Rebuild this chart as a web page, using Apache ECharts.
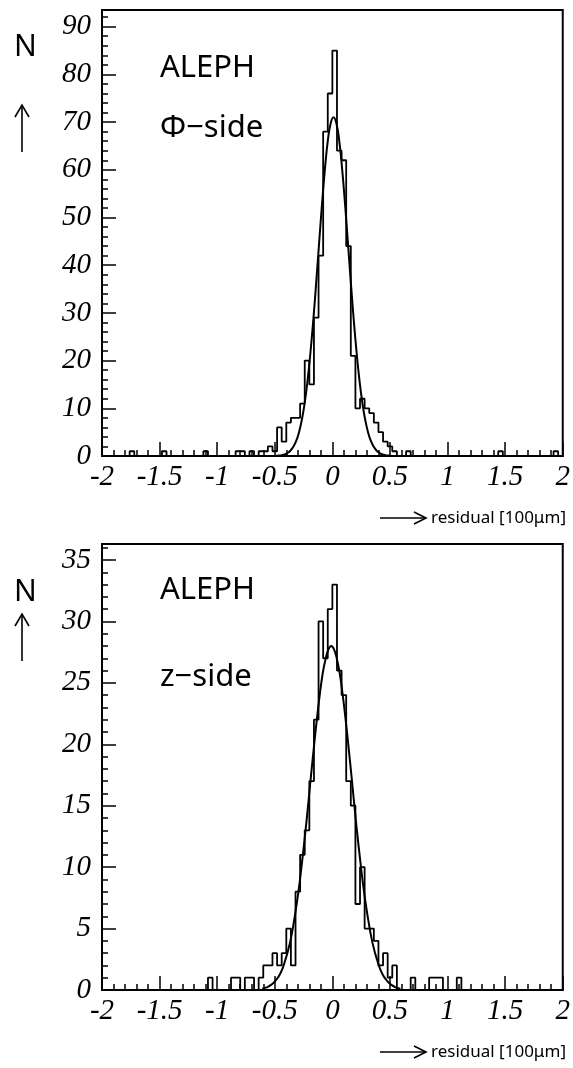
<!DOCTYPE html>
<html><head><meta charset="utf-8">
<script src="https://cdn.jsdelivr.net/npm/echarts@6/dist/echarts.min.js"></script>
<style>html,body{margin:0;padding:0;background:#fff}#c{width:573px;height:1068px}</style>
</head><body><div id="c"></div>
<script>
// histogram: 100 bins of width 0.04 from -2 to 2
var binStart = -2, binWidth = 0.04;
var countsPhi = [0,0,0,0,0,0,1,0,0,0, 0,0,0,1,0,0,0,0,0,0, 0,0,1,0,0,0,0,0,0,1, 1,0,1,0,1,1,2,1,6,3, 7,8,8,11,20,15,29,42,68,76, 85,64,62,44,21,10,12,10,9,7, 5,3,2,1,0,0,1,0,0,0, 0,0,0,0,0,0,0,0,0,0, 0,0,0,0,0,0,1,0,0,0, 0,0,0,0,0,0,0,0,1,0];
var countsZ = [0,0,0,0,0,0,0,0,0,0, 0,0,0,0,0,0,0,0,0,0, 0,0,0,1,0,0,0,0,1,1, 0,1,1,0,1,2,2,3,2,3, 5,2,8,11,13,17,22,30,27,31, 33,26,24,17,15,7,10,5,5,4, 2,3,1,2,0,0,0,1,0,0, 0,1,1,1,0,0,0,1,0,0, 0,0,0,0,0,0,0,0,0,0, 0,0,0,0,0,0,0,0,0,0];
// fitted curves
var fitPhiX = [-0.49,-0.465,-0.44,-0.415,-0.39,-0.365,-0.34,-0.315,-0.29,-0.265,-0.24,-0.215,-0.19,-0.165,-0.14,-0.115,-0.09,-0.065,-0.04,-0.015,0.01,0.035,0.06,0.085,0.11,0.135,0.16,0.185,0.21,0.235,0.26,0.285,0.31,0.335,0.36,0.385,0.41,0.435,0.46,0.485,0.51];
var fitPhiY = [0.04,0.09,0.18,0.34,0.62,1.1,1.9,3.1,4.95,7.6,11.2,15.9,21.8,28.7,36.5,44.7,52.8,60.1,66.0,69.7,71.0,69.7,66.0,60.1,52.8,44.7,36.5,28.7,21.8,15.9,11.2,7.6,4.95,3.1,1.9,1.1,0.62,0.34,0.18,0.09,0.04];
var fitZX = [-0.61,-0.585,-0.56,-0.535,-0.51,-0.485,-0.46,-0.435,-0.41,-0.385,-0.36,-0.335,-0.31,-0.285,-0.26,-0.235,-0.21,-0.185,-0.16,-0.135,-0.11,-0.085,-0.06,-0.035,-0.01,0.015,0.04,0.065,0.09,0.115,0.14,0.165,0.19,0.215,0.24,0.265,0.29,0.315,0.34,0.365,0.39,0.415,0.44,0.465,0.49,0.515,0.54,0.565,0.59];
var fitZY = [0.11,0.17,0.26,0.40,0.59,0.86,1.2,1.7,2.4,3.2,4.2,5.5,7.0,8.7,10.7,12.8,15.1,17.5,19.8,22.0,24.0,25.7,26.9,27.7,28,27.7,26.9,25.7,24.0,22.0,19.8,17.5,15.1,12.8,10.7,8.7,7.0,5.5,4.2,3.2,2.4,1.7,1.2,0.86,0.59,0.40,0.26,0.17,0.11];
var xTicks = ['-2','-1.5','-1','-0.5','0','0.5','1','1.5','2'];
var yMaxPhi = 93.5, yMaxZ = 36.3;
var labelPhi = 'Φ\u2212side', labelZ = 'z\u2212side', expName = 'ALEPH';
var xTitle = 'residual [100μm]', yTitle = 'N';

function steps(counts){
  var pts = [];
  for (var k=0;k<counts.length;k++){
    var a = binStart + k*binWidth, b = a + binWidth;
    pts.push([a, counts[k]]); pts.push([b, counts[k]]);
  }
  return pts;
}
function pairs(xs, ys){ return xs.map(function(x,i){return [x, ys[i]];}); }

var serif = 'Liberation Serif';
var sans = 'Noto Sans';
function xAx(i){
  return {gridIndex:i, type:'value', min:-2, max:2, interval:0.5,
    axisLine:{show:true, onZero:false, lineStyle:{color:'#000', width:2}},
    axisTick:{show:true, inside:true, length:14, lineStyle:{color:'#000', width:1.5}},
    minorTick:{show:true, splitNumber:5, length:6, lineStyle:{color:'#000', width:1.5}},
    splitLine:{show:false},
    axisLabel:{color:'#000', fontFamily:serif, fontStyle:'italic', fontSize:29, margin:7,
      formatter:function(v){ var s = xTicks.filter(function(t){return Math.abs(parseFloat(t)-v)<1e-6;}); return s.length? s[0] : ''; }}
  };
}
function yAx(i, max, interval){
  return {gridIndex:i, type:'value', min:0, max:max, interval:interval,
    axisLine:{show:true, onZero:false, lineStyle:{color:'#000', width:2}},
    axisTick:{show:true, inside:true, length:14, lineStyle:{color:'#000', width:1.5}},
    minorTick:{show:true, splitNumber:5, length:6, lineStyle:{color:'#000', width:1.5}},
    splitLine:{show:false},
    axisLabel:{color:'#000', fontFamily:serif, fontStyle:'italic', fontSize:29, margin:11, showMaxLabel:false,
      formatter:function(v){ return (Math.abs(v/interval - Math.round(v/interval))<1e-6) ? String(v) : ''; }}
  };
}
function arrowUp(x, y1, y2){
  return [
    {type:'line', shape:{x1:x,y1:y1,x2:x,y2:y2}, style:{stroke:'#000', lineWidth:1.6}},
    {type:'polyline', shape:{points:[[x-7,y1+12],[x,y1],[x+7,y1+12]]}, style:{stroke:'#000', fill:null, lineWidth:1.6}}
  ];
}
function arrowRight(x1, x2, y){
  return [
    {type:'line', shape:{x1:x1,y1:y,x2:x2,y2:y}, style:{stroke:'#000', lineWidth:1.6}},
    {type:'polyline', shape:{points:[[x2-12,y-6],[x2,y],[x2-12,y+6]]}, style:{stroke:'#000', fill:null, lineWidth:1.6}}
  ];
}
function txt(x, y, s, size, align){
  return {type:'text', x:x, y:y, style:{text:s, font: size+'px "'+sans+'"', fill:'#000', textAlign:align||'left', textVerticalAlign:'middle'}};
}

var off = 534;
var graphics = [].concat(
  [txt(14, 47, yTitle, 30), txt(160, 68, expName, 31), txt(160, 128, labelPhi, 31)],
  arrowUp(22, 105, 152),
  arrowRight(380, 426, 518), [txt(566, 518, xTitle, 17, 'right')],
  [txt(14, 592, yTitle, 30), txt(160, 590, expName, 31), txt(160, 677, labelZ, 31)],
  arrowUp(22, 614, 661),
  arrowRight(380, 426, 518+off), [txt(566, 518+off, xTitle, 17, 'right')]
);

var chart = echarts.init(document.getElementById('c'), null, {renderer:'canvas'});
chart.setOption({
  backgroundColor:'#fff',
  animation:false,
  grid:[
    {left:102, top:10, width:464, height:446, show:true, borderColor:'#000', borderWidth:2, backgroundColor:'transparent'},
    {left:102, top:10+off, width:464, height:446, show:true, borderColor:'#000', borderWidth:2, backgroundColor:'transparent'}
  ],
  xAxis:[xAx(0), xAx(1)],
  yAxis:[yAx(0, yMaxPhi, 10), yAx(1, yMaxZ, 5)],
  series:[
    {type:'line', xAxisIndex:0, yAxisIndex:0, data:steps(countsPhi), symbol:'none', lineStyle:{color:'#000', width:1.8}},
    {type:'line', xAxisIndex:0, yAxisIndex:0, data:pairs(fitPhiX, fitPhiY), symbol:'none', smooth:true, lineStyle:{color:'#000', width:2}},
    {type:'line', xAxisIndex:1, yAxisIndex:1, data:steps(countsZ), symbol:'none', lineStyle:{color:'#000', width:1.8}},
    {type:'line', xAxisIndex:1, yAxisIndex:1, data:pairs(fitZX, fitZY), symbol:'none', smooth:true, lineStyle:{color:'#000', width:2}}
  ],
  graphic: graphics
});
</script></body></html>
